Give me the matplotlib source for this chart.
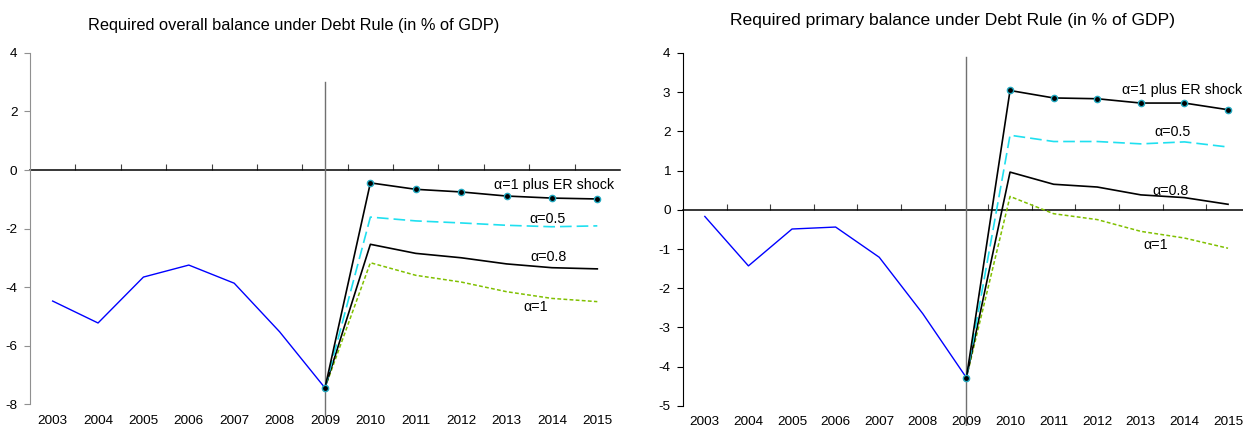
import numpy as np
import matplotlib
matplotlib.use("Agg")
import matplotlib.pyplot as plt

plt.rcParams["font.family"] = ["Liberation Sans", "DejaVu Sans"]
plt.rcParams["axes.unicode_minus"] = False

YEARS = ["2003", "2004", "2005", "2006", "2007", "2008", "2009",
         "2010", "2011", "2012", "2013", "2014", "2015"]
HIST_YEARS = YEARS[:7]
PROJ_YEARS = YEARS[6:]

# left panel: required overall balance
OV_HIST = [-4.48, -5.23, -3.66, -3.25, -3.87, -5.53, -7.45]
OV_ER = [-7.45, -0.44, -0.66, -0.75, -0.89, -0.96, -0.99]
OV_A05 = [-7.45, -1.61, -1.74, -1.81, -1.89, -1.94, -1.91]
OV_A08 = [-7.45, -2.54, -2.85, -3.00, -3.21, -3.34, -3.38]
OV_A1 = [-7.45, -3.17, -3.60, -3.83, -4.16, -4.39, -4.50]
OV_VLINE = [3.0, -8.4]

# right panel: required primary balance
PR_HIST = [-0.17, -1.43, -0.49, -0.44, -1.21, -2.65, -4.28]
PR_ER = [-4.28, 3.04, 2.85, 2.83, 2.72, 2.72, 2.55]
PR_A05 = [-4.28, 1.90, 1.74, 1.74, 1.68, 1.73, 1.60]
PR_A08 = [-4.28, 0.96, 0.65, 0.58, 0.38, 0.31, 0.14]
PR_A1 = [-4.28, 0.34, -0.10, -0.25, -0.55, -0.72, -0.98]
PR_VLINE = [3.9, -5.6]

LABELS = ["α=1 plus ER shock", "α=0.5", "α=0.8", "α=1"]


def panel(ax, hist, er, a05, a08, a1, vline, ylim, yticks, label_pos, left_col, xpad):
    idx = {y: i for i, y in enumerate(YEARS)}
    xh = [idx[y] for y in HIST_YEARS]
    xp = [idx[y] for y in PROJ_YEARS]

    ax.plot([idx["2009"]] * 2, vline, color="#707070", lw=1.0, clip_on=False, zorder=1)
    ax.plot(xh, hist, color="#0000ff", lw=1.0, zorder=3)
    ax.plot(xp, a1, color="#80c000", lw=1.1, linestyle=(0, (2.5, 1.5)), zorder=3)
    ax.plot(xp, a08, color="black", lw=1.2, zorder=3)
    ax.plot(xp, a05, color="#1fe0f0", lw=1.2, linestyle=(0, (7, 3)), zorder=3)
    ax.plot(xp, er, color="black", lw=1.2, marker="o", ms=4.5,
            mfc="black", mec="#22a8c0", mew=1.0, zorder=4)

    for lab, (x, y) in zip(LABELS, label_pos):
        ax.text(x, y, lab, ha="center", va="center", fontsize=10.3)

    ax.set_xlim(-0.5, len(YEARS) - 0.5)
    ax.set_ylim(*ylim)
    ax.set_yticks(yticks)
    ax.set_xticks(range(len(YEARS)))
    ax.set_xticklabels(YEARS)
    ax.tick_params(axis="x", length=0, pad=xpad, labelsize=9.7)
    ax.tick_params(axis="y", direction="out", length=4, pad=5, labelsize=9.7,
                   color=left_col)
    for s in ("top", "right", "bottom"):
        ax.spines[s].set_visible(False)
    ax.spines["left"].set_color(left_col)

    # zero line with tick marks between categories
    zero = (0 - ylim[0]) / (ylim[1] - ylim[0])
    sec = ax.secondary_xaxis(zero)
    sec.set_xticks(np.arange(len(YEARS) - 1) + 0.5)
    sec.tick_params(axis="x", direction="out", length=4, labeltop=False,
                    labelbottom=False, color="#404040")
    for s in sec.spines.values():
        s.set_color("black")
        s.set_linewidth(1.1)


fig = plt.figure(figsize=(12.43, 4.26), dpi=100)
ax1 = fig.add_axes([0.0241, 0.0516, 0.4747, 0.824])
ax2 = fig.add_axes([0.5495, 0.047, 0.456, 0.829])

panel(ax1, OV_HIST, OV_ER, OV_A05, OV_A08, OV_A1, OV_VLINE, (-8, 4), range(-8, 5, 2),
      [(11.04, -0.5), (10.9, -1.68), (10.93, -2.96), (10.64, -4.67)], "#909090", 8)
panel(ax2, PR_HIST, PR_ER, PR_A05, PR_A08, PR_A1, PR_VLINE, (-5, 4), range(-5, 5),
      [(10.94, 3.04), (10.73, 1.97), (10.67, 0.49), (10.34, -0.91)], "black", 7.5)

fig.text(0.2361, 0.9413, "Required overall balance under Debt Rule (in % of GDP)",
         ha="center", va="center", fontsize=11.75)
fig.text(0.766, 0.953, "Required primary balance under Debt Rule (in % of GDP)",
         ha="center", va="center", fontsize=12.6)

fig.savefig("out.png", dpi=100)
